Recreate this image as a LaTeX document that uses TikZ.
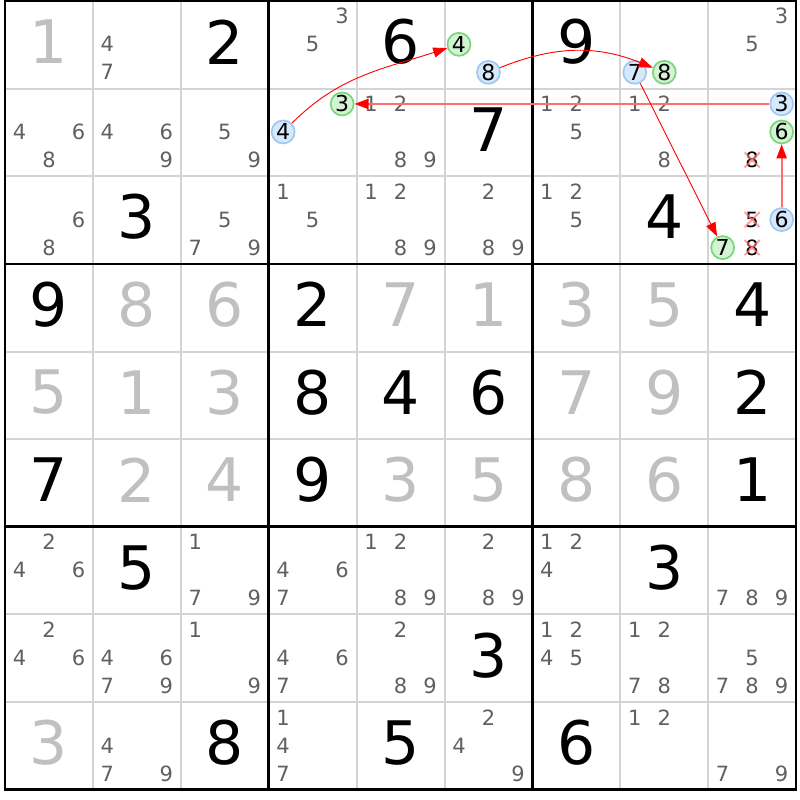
\documentclass[tikz,border=0pt]{standalone}
\usepackage{fontspec}
\setmainfont{DejaVu Sans}
\usetikzlibrary{arrows.meta}
\definecolor{candgray}{RGB}{96,96,96}
\definecolor{solvgray}{RGB}{192,192,192}
\definecolor{gridgray}{RGB}{212,212,212}
\definecolor{bluefill}{RGB}{214,232,252}
\definecolor{bluedraw}{RGB}{160,200,240}
\definecolor{greenfill}{RGB}{212,242,212}
\definecolor{greendraw}{RGB}{120,215,120}
\definecolor{linkred}{RGB}{255,0,0}
\definecolor{strongred}{RGB}{255,110,110}
\definecolor{crossred}{RGB}{255,120,120}
\newcommand\setcand[3]{%
  \pgfmathsetmacro\candx{5+(#2+0.5)*87.9+(mod(#3-1,3)-1)*29.5}%
  \pgfmathsetmacro\candy{-(1+(#1+0.5)*87.63-28.5+28*int((#3-1)/3))}}
\begin{document}
\begin{tikzpicture}[x=1pt,y=1pt,
  big/.style={font=\fontsize{60}{60}\selectfont, inner sep=0pt},
  givend/.style={big,text=black},
  solvedd/.style={big,text=solvgray},
  candd/.style={font=\fontsize{21}{21}\selectfont, inner sep=0pt, text=candgray},
  crossd/.style={candd,text=black},
  crossline/.style={draw=crossred,line width=2pt,opacity=0.7},
  bluec/.style={circle,draw=bluedraw,fill=bluefill,line width=1.7pt,minimum size=23pt,inner sep=0pt,font=\fontsize{22}{22}\selectfont,text=black},
  greenc/.style={bluec,draw=greendraw,fill=greenfill},
  thinline/.style={draw=gridgray,line width=2pt},
  thickline/.style={draw=black,line width=2.6pt},
  weak/.style={draw=linkred,line width=0.9pt,-{Triangle[length=14pt,width=10pt,color=linkred]}},
  strong/.style={draw=strongred,line width=2pt,-{Triangle[length=14pt,width=10pt,color=linkred]}},
]
\useasboundingbox (0,0) rectangle (800,-800);
\fill[white] (0,0) rectangle (800,-800);
% grid
\foreach \i in {1,2,4,5,7,8}{
  \draw[thinline] ({5+\i*87.9},-1) -- ({5+\i*87.9},-789.7);
  \draw[thinline] (5,{-(1+\i*87.63)}) -- (796.1,{-(1+\i*87.63)});
}
\foreach \i in {0,3,6,9}{
  \draw[thickline] ({5+\i*87.9},-1) -- ({5+\i*87.9},-789.7);
  \draw[thickline] (5,{-(1+\i*87.63)}) -- (796.1,{-(1+\i*87.63)});
}
\draw[thickline] (5,-1) rectangle (796.1,-789.7);
% given digits
\foreach \r/\c/\d in {0/2/2,0/4/6,0/6/9,1/5/7,2/1/3,2/7/4,
  3/0/9,3/3/2,3/8/4,4/3/8,4/4/4,4/5/6,4/8/2,5/0/7,5/3/9,5/8/1,
  6/1/5,6/7/3,7/5/3,8/2/8,8/4/5,8/6/6}{
  \pgfmathsetmacro\bx{5+(\c+0.5)*87.9}
  \pgfmathsetmacro\by{-(1+(\r+0.5)*87.63)+3}
  \node[givend] (G-\r-\c) at (\bx,\by) {\d};
}
% solved digits
\foreach \r/\c/\d in {0/0/1,3/1/8,3/2/6,3/4/7,3/5/1,3/6/3,3/7/5,
  4/0/5,4/1/1,4/2/3,4/6/7,4/7/9,5/1/2,5/2/4,5/4/3,5/5/5,5/6/8,5/7/6,8/0/3}{
  \pgfmathsetmacro\bx{5+(\c+0.5)*87.9}
  \pgfmathsetmacro\by{-(1+(\r+0.5)*87.63)+3}
  \node[solvedd] (S-\r-\c) at (\bx,\by) {\d};
}
% candidates
\foreach \r/\c/\L in {0/1/{4,7},0/3/{3,5},0/8/{3,5},
  1/0/{4,6,8},1/1/{4,6,9},1/2/{5,9},1/4/{1,2,8,9},1/6/{1,2,5},1/7/{1,2,8},
  2/0/{6,8},2/2/{5,7,9},2/3/{1,5},2/4/{1,2,8,9},2/5/{2,8,9},2/6/{1,2,5},
  6/0/{2,4,6},6/2/{1,7,9},6/3/{4,6,7},6/4/{1,2,8,9},6/5/{2,8,9},6/6/{1,2,4},6/8/{7,8,9},
  7/0/{2,4,6},7/1/{4,6,7,9},7/2/{1,9},7/3/{4,6,7},7/4/{2,8,9},7/6/{1,2,4,5},7/7/{1,2,7,8},7/8/{5,7,8,9},
  8/1/{4,7,9},8/3/{1,4,7},8/5/{2,4,9},8/7/{1,2},8/8/{7,9}}{
  \foreach \k in \L {
    \setcand{\r}{\c}{\k}
    \node[candd] (C-\r-\c-\k) at (\candx,\candy) {\k};
  }
}
% eliminated candidates
\setcand{1}{8}{8}
\node[crossd] (X188) at (\candx,\candy) {8};
\draw[crossline] ([shift={(-7.5,-7.5)}]X188.center) -- ([shift={(7.5,7.5)}]X188.center);
\draw[crossline] ([shift={(-7.5,7.5)}]X188.center) -- ([shift={(7.5,-7.5)}]X188.center);
\setcand{2}{8}{5}
\node[crossd] (X285) at (\candx,\candy) {5};
\draw[crossline] ([shift={(-7.5,-7.5)}]X285.center) -- ([shift={(7.5,7.5)}]X285.center);
\draw[crossline] ([shift={(-7.5,7.5)}]X285.center) -- ([shift={(7.5,-7.5)}]X285.center);
\setcand{2}{8}{8}
\node[crossd] (X288) at (\candx,\candy) {8};
\draw[crossline] ([shift={(-7.5,-7.5)}]X288.center) -- ([shift={(7.5,7.5)}]X288.center);
\draw[crossline] ([shift={(-7.5,7.5)}]X288.center) -- ([shift={(7.5,-7.5)}]X288.center);
% highlighted candidates
\setcand{1}{3}{4}\node[bluec] (b4) at (\candx,\candy) {4};
\setcand{0}{5}{4}\node[greenc] (g4) at (\candx,\candy) {4};
\setcand{0}{5}{8}\node[bluec] (b8) at (\candx,\candy) {8};
\setcand{0}{7}{8}\node[greenc] (g8) at (\candx,\candy) {8};
\setcand{0}{7}{7}\node[bluec] (b7) at (\candx,\candy) {7};
\setcand{2}{8}{7}\node[greenc] (g7) at (\candx,\candy) {7};
\setcand{2}{8}{6}\node[bluec] (b6) at (\candx,\candy) {6};
\setcand{1}{8}{6}\node[greenc] (g6) at (\candx,\candy) {6};
\setcand{1}{8}{3}\node[bluec] (b3) at (\candx,\candy) {3};
\setcand{1}{3}{3}\node[greenc] (g3) at (\candx,\candy) {3};
% links
\draw[weak] (b4) to[out=45,in=198] (g4);
\draw[weak] (b8) to[out=22,in=158] (g8);
\draw[strong] (b3) -- (g3);
\draw[weak] (b7) -- (g7);
\draw[strong] (b6) -- (g6);
\end{tikzpicture}
\end{document}
